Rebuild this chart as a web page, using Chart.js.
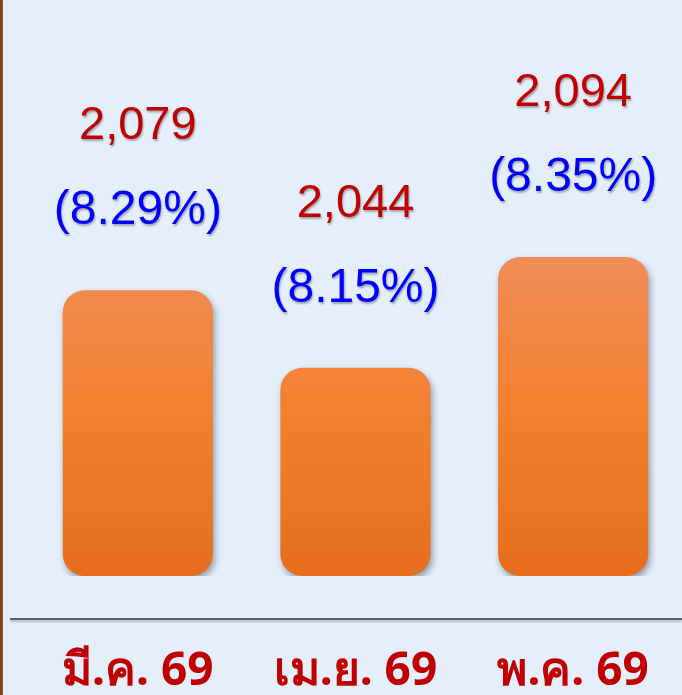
<!DOCTYPE html>
<html>
<head>
<meta charset="utf-8">
<script src="https://cdn.jsdelivr.net/npm/chart.js@4.4.1/dist/chart.umd.min.js"></script>
<style>
  html, body { margin: 0; padding: 0; background: #E5EFFC; overflow: hidden; }
  #wrap { width: 682px; height: 695px; position: relative; }
  canvas { display: block; }
</style>
</head>
<body>
<div id="wrap"><canvas id="myChart"></canvas></div>
<script>
const months = ['มี.ค. 69', 'เม.ย. 69', 'พ.ค. 69'];
const counts = [2079, 2044, 2094];
const shares = ['(8.29%)', '(8.15%)', '(8.35%)'];
const valueLabels = ['2,079', '2,044', '2,094'];
const axisMin = 1950;
const axisMax = 2210;

const ctx = document.getElementById('myChart');

// background, brown edge line, axis line, bar shadows and value labels
const frame = {
  id: 'frame',
  beforeDraw(chart) {
    const c = chart.ctx;
    c.save();
    c.fillStyle = '#E5EFFC';
    c.fillRect(0, 0, chart.width, chart.height);
    const g = c.createLinearGradient(0, 0, 4, 0);
    g.addColorStop(0, '#7A3A12');
    g.addColorStop(1, '#A0602E');
    c.fillStyle = g;
    c.fillRect(0, 0, 3, chart.height);
    const y = chart.chartArea.bottom + 43;
    c.shadowColor = 'rgba(0,0,0,0.25)';
    c.shadowOffsetY = 2;
    c.shadowBlur = 2;
    c.strokeStyle = '#5A5E66';
    c.lineWidth = 2;
    c.beginPath();
    c.moveTo(10, y);
    c.lineTo(chart.width, y);
    c.stroke();
    c.restore();
  },
  beforeDatasetsDraw(chart) {
    const c = chart.ctx;
    c.save();
    c.shadowColor = 'rgba(40,50,70,0.45)';
    c.shadowBlur = 7;
    c.shadowOffsetX = 2;
    c.shadowOffsetY = 4;
  },
  afterDatasetsDraw(chart) {
    const c = chart.ctx;
    c.restore();
    const meta = chart.getDatasetMeta(0);
    c.save();
    c.textAlign = 'center';
    c.textBaseline = 'middle';
    c.shadowColor = 'rgba(0,0,0,0.3)';
    c.shadowOffsetX = 1;
    c.shadowOffsetY = 2;
    c.shadowBlur = 2;
    meta.data.forEach((bar, i) => {
      c.font = '47px "Liberation Sans", Arial, sans-serif';
      c.fillStyle = '#C00000';
      c.fillText(valueLabels[i], bar.x, bar.y - 164);
      c.font = '48px "Liberation Sans", Arial, sans-serif';
      c.fillStyle = '#0000FF';
      c.fillText(shares[i], bar.x, bar.y - 79);
    });
    c.restore();
  }
};

new Chart(ctx, {
  type: 'bar',
  data: {
    labels: months,
    datasets: [{
      data: counts,
      base: axisMin,
      backgroundColor: (context) => {
        const area = context.chart.chartArea;
        if (!area) return '#F28030';
        const g = context.chart.ctx.createLinearGradient(0, 250, 0, area.bottom);
        g.addColorStop(0, '#F08D58');
        g.addColorStop(0.5, '#F3802E');
        g.addColorStop(1, '#E66E1C');
        return g;
      },
      borderRadius: 22,
      borderSkipped: false,
      barPercentage: 0.69,
      categoryPercentage: 1
    }]
  },
  options: {
    responsive: true,
    maintainAspectRatio: false,
    animation: false,
    layout: { padding: { left: 29, right: 0, top: 0, bottom: 0 } },
    scales: {
      y: {
        display: false,
        min: axisMin,
        max: axisMax
      },
      x: {
        grid: { display: false, drawTicks: false },
        border: { display: false },
        afterFit: (s) => {
          s.height = 119;
          s.paddingLeft = 0;
          s.paddingRight = 0;
        },
        ticks: {
          padding: 68,
          maxRotation: 0,
          color: '#C00000',
          font: { family: '"Noto Sans", "DejaVu Sans", sans-serif', size: 46, weight: 'bold' }
        }
      }
    },
    plugins: {
      legend: { display: false },
      tooltip: { enabled: false }
    }
  },
  plugins: [frame]
});
</script>
</body>
</html>
